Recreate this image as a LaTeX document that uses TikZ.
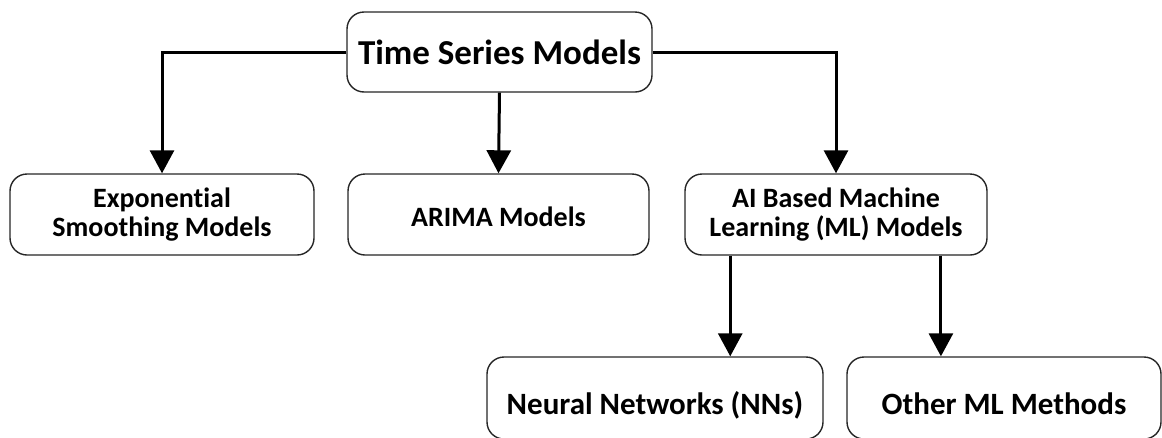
\documentclass[tikz,border=0pt]{standalone}
\usepackage{fontspec}
\setmainfont[Ligatures=NoCommon]{Carlito}
\usetikzlibrary{arrows.meta,calc}

\tikzset{
  box/.style={draw=black!85, line width=1.4pt, rounded corners=17pt,
    fill=white, align=center, inner sep=0pt},
  rootfont/.style={font=\bfseries\fontsize{35}{40}\selectfont},
  midfont/.style={font=\bfseries\fontsize{28}{29}\selectfont},
  leaffont/.style={font=\bfseries\fontsize{31}{34}\selectfont,
    text height=32pt, text depth=0pt},
  link/.style={line width=3pt, draw=black,
    -{Triangle[length=23pt,width=24pt]}},
}

\begin{document}
\begin{tikzpicture}[x=1pt,y=1pt]
  \useasboundingbox (0,0) rectangle (1162,-437);

  % root
  \node[box, rootfont, minimum width=305pt, minimum height=80pt]
    (root) at (499.5,-52) {Time Series Models};

  % second level
  \node[box, midfont, minimum width=304pt, minimum height=81pt]
    (exp) at (162,-214.5) {Exponential\\Smoothing Models};
  \node[box, midfont, minimum width=301pt, minimum height=81pt,
    text height=24pt, text depth=0pt]
    (arima) at (498.5,-214.5) {ARIMA Models};
  \node[box, midfont, minimum width=302pt, minimum height=81pt]
    (ai) at (836,-214.5) {AI Based Machine\\Learning (ML) Models};

  % third level
  \node[box, leaffont, minimum width=336pt, minimum height=82pt]
    (nn) at (655,-398) {Neural Networks (NNs)};
  \node[box, leaffont, minimum width=314pt, minimum height=82pt]
    (other) at (1004,-398) {Other ML Methods};

  % entry points on the lower boxes
  \coordinate (nnin) at ($(nn.north west)!0.723!(nn.north east)$);
  \coordinate (otherin) at ($(other.north west)!0.30!(other.north east)$);

  % connectors
  \draw[link] (root.west) -| (exp.north);
  \draw[link] (root.south) -- (arima.north);
  \draw[link] (root.east) -| (ai.north);
  \draw[link] (ai.south -| nnin) -- (nnin);
  \draw[link] (ai.south -| otherin) -- (otherin);
\end{tikzpicture}
\end{document}
